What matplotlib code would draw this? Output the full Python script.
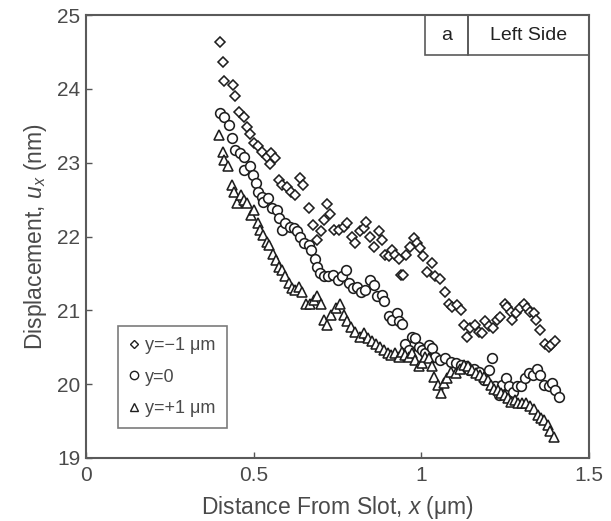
import matplotlib
matplotlib.use("Agg")
import matplotlib.pyplot as plt
from matplotlib.patches import Rectangle
from matplotlib.lines import Line2D

plt.rcParams['font.family'] = ['Liberation Sans', 'DejaVu Sans']
plt.rcParams['mathtext.fontset'] = 'custom'
plt.rcParams['mathtext.rm'] = 'Liberation Sans'
plt.rcParams['mathtext.it'] = 'Liberation Sans:italic'

# y = -1 um (diamonds)
x_m1 = [0.400, 0.408, 0.412, 0.438, 0.445, 0.456, 0.470, 0.480, 0.490, 0.500,
        0.514, 0.524, 0.540, 0.551, 0.564, 0.549, 0.574, 0.584, 0.600, 0.610,
        0.624, 0.639, 0.647, 0.664, 0.677, 0.690, 0.700, 0.711, 0.720, 0.728,
        0.740, 0.753, 0.768, 0.778, 0.793, 0.803, 0.816, 0.828, 0.836, 0.848,
        0.858, 0.873, 0.883, 0.893, 0.903, 0.912, 0.922, 0.932, 0.939, 0.945,
        0.955, 0.967, 0.977, 0.987, 0.997, 1.005, 1.017, 1.032, 1.042, 1.055,
        1.072, 1.082, 1.092, 1.107, 1.117, 1.127, 1.137, 1.146, 1.161, 1.171,
        1.181, 1.191, 1.201, 1.214, 1.226, 1.236, 1.248, 1.256, 1.266, 1.271,
        1.281, 1.294, 1.306, 1.316, 1.325, 1.335, 1.343, 1.355, 1.370, 1.380,
        1.387, 1.400]
u_m1 = [24.63, 24.36, 24.11, 24.05, 23.91, 23.69, 23.62, 23.49, 23.39, 23.27,
        23.23, 23.15, 23.08, 23.13, 23.06, 22.98, 22.77, 22.70, 22.67, 22.61,
        22.56, 22.79, 22.70, 22.38, 22.16, 21.95, 22.08, 22.22, 22.44, 22.31,
        22.09, 22.09, 22.13, 22.18, 22.00, 21.91, 22.07, 22.11, 22.20, 22.00,
        21.86, 22.07, 21.95, 21.75, 21.73, 21.82, 21.75, 21.70, 21.48, 21.48,
        21.75, 21.86, 21.98, 21.91, 21.84, 21.73, 21.52, 21.64, 21.46, 21.43,
        21.25, 21.09, 21.05, 21.07, 21.00, 20.80, 20.64, 20.76, 20.80, 20.71,
        20.69, 20.85, 20.79, 20.76, 20.87, 20.91, 21.09, 21.05, 20.98, 20.87,
        20.96, 21.03, 21.09, 21.03, 20.98, 20.96, 20.87, 20.73, 20.55, 20.51,
        20.53, 20.58]

# y = 0 (circles)
x_0 = [0.400, 0.412, 0.425, 0.435, 0.445, 0.458, 0.470, 0.472, 0.490, 0.498,
       0.507, 0.514, 0.524, 0.527, 0.544, 0.554, 0.569, 0.574, 0.584, 0.594,
       0.607, 0.619, 0.629, 0.639, 0.651, 0.664, 0.671, 0.684, 0.690, 0.698,
       0.710, 0.723, 0.736, 0.750, 0.763, 0.776, 0.783, 0.796, 0.808, 0.820,
       0.833, 0.848, 0.858, 0.868, 0.883, 0.890, 0.903, 0.912, 0.927, 0.932,
       0.942, 0.952, 0.962, 0.972, 0.982, 0.992, 1.002, 1.012, 1.022, 1.032,
       1.042, 1.057, 1.072, 1.087, 1.102, 1.117, 1.132, 1.142, 1.157, 1.171,
       1.186, 1.201, 1.211, 1.221, 1.231, 1.241, 1.251, 1.261, 1.274, 1.286,
       1.296, 1.308, 1.320, 1.333, 1.345, 1.355, 1.366, 1.380, 1.390, 1.400,
       1.410]
u_0 = [23.68, 23.62, 23.51, 23.33, 23.17, 23.13, 23.08, 22.90, 22.95, 22.83,
       22.72, 22.61, 22.54, 22.47, 22.52, 22.38, 22.36, 22.25, 22.09, 22.18,
       22.13, 22.11, 22.07, 22.00, 21.91, 21.88, 21.82, 21.70, 21.59, 21.50,
       21.46, 21.46, 21.48, 21.41, 21.46, 21.55, 21.37, 21.30, 21.32, 21.25,
       21.28, 21.41, 21.34, 21.19, 21.21, 21.12, 20.92, 20.87, 20.96, 20.85,
       20.82, 20.55, 20.46, 20.64, 20.62, 20.51, 20.46, 20.42, 20.53, 20.49,
       20.37, 20.33, 20.35, 20.30, 20.28, 20.26, 20.24, 20.19, 20.21, 20.17,
       20.06, 20.19, 20.35, 19.97, 19.85, 19.99, 20.08, 19.97, 19.90, 19.97,
       19.97, 20.08, 20.15, 20.12, 20.21, 20.12, 19.99, 19.97, 20.01, 19.92,
       19.83]

# y = +1 um (triangles)
x_p1 = [0.398, 0.408, 0.412, 0.422, 0.435, 0.442, 0.450, 0.462, 0.470, 0.480,
        0.492, 0.500, 0.512, 0.519, 0.529, 0.539, 0.547, 0.557, 0.567, 0.574,
        0.584, 0.594, 0.604, 0.614, 0.624, 0.634, 0.644, 0.656, 0.669, 0.679,
        0.690, 0.700, 0.710, 0.720, 0.730, 0.746, 0.758, 0.770, 0.778, 0.790,
        0.803, 0.816, 0.828, 0.840, 0.853, 0.866, 0.876, 0.888, 0.900, 0.910,
        0.922, 0.932, 0.942, 0.952, 0.962, 0.972, 0.982, 0.992, 1.002, 1.012,
        1.022, 1.032, 1.039, 1.049, 1.059, 1.069, 1.077, 1.088, 1.102, 1.114,
        1.127, 1.138, 1.151, 1.164, 1.176, 1.188, 1.198, 1.208, 1.218, 1.228,
        1.238, 1.248, 1.258, 1.268, 1.278, 1.288, 1.300, 1.313, 1.325, 1.337,
        1.347, 1.357, 1.367, 1.377, 1.385, 1.395]
u_p1 = [23.37, 23.15, 23.04, 22.95, 22.70, 22.61, 22.45, 22.56, 22.49, 22.45,
        22.29, 22.36, 22.18, 22.09, 22.02, 21.93, 21.88, 21.77, 21.68, 21.59,
        21.55, 21.46, 21.37, 21.30, 21.28, 21.32, 21.25, 21.09, 21.09, 21.14,
        21.19, 21.09, 20.87, 20.80, 20.94, 21.03, 21.09, 20.94, 20.85, 20.78,
        20.71, 20.64, 20.69, 20.62, 20.58, 20.55, 20.51, 20.46, 20.42, 20.40,
        20.42, 20.37, 20.44, 20.40, 20.37, 20.42, 20.33, 20.24, 20.28, 20.37,
        20.35, 20.24, 20.10, 19.99, 19.88, 20.01, 20.08, 20.17, 20.15, 20.21,
        20.26, 20.24, 20.19, 20.15, 20.12, 20.10, 20.06, 19.99, 19.94, 19.92,
        19.88, 19.85, 19.81, 19.76, 19.79, 19.74, 19.74, 19.74, 19.70, 19.67,
        19.58, 19.54, 19.51, 19.45, 19.36, 19.29]

labels = ['y=\u22121 \u03bcm', 'y=0', 'y=+1 \u03bcm']

text_c = '#4a4a4a'
edge_c = '#1e1e1e'

fig = plt.figure(figsize=(6.11, 5.21), dpi=100)
ax = fig.add_axes([0.1408, 0.121, 0.8232, 0.850])

ax.plot(x_m1, u_m1, ls='none', marker='D', ms=5.5, mfc='white', mec=edge_c, mew=1.15)
ax.plot(x_0, u_0, ls='none', marker='o', ms=7.0, mfc='white', mec=edge_c, mew=1.15)
ax.plot(x_p1, u_p1, ls='none', marker='^', ms=7.5, mfc='white', mec=edge_c, mew=1.15)

ax.set_xlim(0, 1.5)
ax.set_ylim(19, 25)
ax.set_xticks([0, 0.5, 1, 1.5])
ax.set_xticklabels(['0', '0.5', '1', '1.5'])
ax.set_yticks([19, 20, 21, 22, 23, 24, 25])
ax.tick_params(direction='in', length=4, width=1, colors='#555555',
               labelcolor=text_c, labelsize=15)
ax.tick_params(axis='x', pad=6)
ax.tick_params(axis='y', pad=4)
for s in ax.spines.values():
    s.set_color('#5a5a5a')
    s.set_linewidth(1.5)

ax.set_xlabel('Distance From Slot, $x$ (\u03bcm)', fontsize=16.5, color=text_c, labelpad=6)
ax.set_ylabel('Displacement, $u_x$ (nm)', fontsize=16.5, color=text_c, labelpad=6)

# "a | Left Side" box
box_kw = dict(transform=ax.transAxes, fill=False, ec='#5a5a5a', lw=1.2, clip_on=False)
ax.add_patch(Rectangle((0.674, 0.910), 0.085, 0.090, **box_kw))
ax.add_patch(Rectangle((0.759, 0.910), 0.241, 0.090, **box_kw))
ax.text(0.7165, 0.955, 'a', transform=ax.transAxes, ha='center', va='center',
        fontsize=14, color='#222222')
ax.text(0.8795, 0.955, 'Left Side', transform=ax.transAxes, ha='center', va='center',
        fontsize=14, color='#222222')

handles = [
    Line2D([], [], ls='none', marker='D', ms=4, mfc='white', mec=edge_c, mew=1.0),
    Line2D([], [], ls='none', marker='o', ms=6, mfc='white', mec=edge_c, mew=1.0),
    Line2D([], [], ls='none', marker='^', ms=6, mfc='white', mec=edge_c, mew=1.0),
]
leg = ax.legend(handles, labels, loc='lower left', bbox_to_anchor=(0.064, 0.068),
                frameon=True, fancybox=False, fontsize=13, handlelength=0.6,
                handletextpad=0.3, borderpad=0.6, labelspacing=0.8, borderaxespad=0)
leg.get_frame().set_edgecolor('#5a5a5a')
leg.get_frame().set_linewidth(1.2)
for t in leg.get_texts():
    t.set_color(text_c)

fig.savefig('out.png', dpi=100)
